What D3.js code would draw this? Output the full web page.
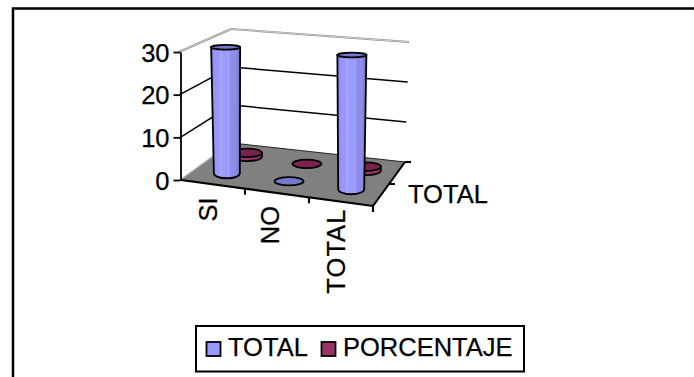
<!DOCTYPE html>
<html>
<head>
<meta charset="utf-8">
<script src="https://cdn.jsdelivr.net/npm/d3@7/dist/d3.min.js"></script>
<style>
html,body{margin:0;padding:0;background:#fff;overflow:hidden}
text{font-family:"Liberation Sans",Arial,sans-serif;fill:#000;stroke:#000;stroke-width:0.25px}
</style>
</head>
<body>
<svg id="chart" width="694" height="377"></svg>
<script>
// Chart data
const categories = ["SI", "NO", "TOTAL"];
const seriesNames = ["TOTAL", "PORCENTAJE"];
const totalValues = [30, 0, 30];
const percentValues = [1, 0, 1];
const valueTicks = [0, 10, 20, 30];

// Series styling
const sideColors = {TOTAL: "url(#cyl)", PORCENTAJE: "#993366"};
const capColors = {TOTAL: "#7676cc", PORCENTAJE: "#7a2350"};
const swatchColors = {TOTAL: "#9999ff", PORCENTAJE: "#993366"};

const svg = d3.select("#chart");
const FS = 25.5;

// Oblique box the chart is projected into: x/y of the floor and ceiling corners
const box = {
  floor: {fl: [181, 180], fr: [373, 206], bl: [232, 143], br: [405, 162]},
  ceil:  {fl: [179, 52],  fr: [373, 63],  bl: [231, 29],  br: [409, 42]}
};
const uScale = d3.scaleBand().domain(categories).range([0, 1]);
const vScale = d3.scalePoint().domain(seriesNames).range([0.29, 0.72]);
const zScale = d3.scaleLinear().domain([0, 30]).range([0, 1]);

const lerp = (a, b, t) => a + (b - a) * t;
function corner(level, u, v) {
  const c = box[level];
  return [0, 1].map(i => lerp(lerp(c.fl[i], c.fr[i], u), lerp(c.bl[i], c.br[i], u), v));
}
function project(u, v, value) {
  const a = corner("floor", u, v), b = corner("ceil", u, v), t = zScale(value);
  return [lerp(a[0], b[0], t), lerp(a[1], b[1], t)];
}
const poly = pts => "M" + pts.map(p => p.join(",")).join("L");

// Cylinder shading with the faceted vertical bands
const defs = svg.append("defs");
const grad = defs.append("linearGradient").attr("id", "cyl");
[[0, "#8686ea"], [0.12, "#9494fa"], [0.3, "#9c9cff"], [0.34, "#b0b0ff"], [0.38, "#9c9cff"],
 [0.55, "#9a9afc"], [0.6, "#a6a6ff"], [0.64, "#9292f2"], [0.78, "#8a8ae6"], [0.82, "#9090ea"], [1, "#7272c4"]]
  .forEach(s => grad.append("stop").attr("offset", s[0]).attr("stop-color", s[1]));

// Chart frame
svg.append("rect").attr("x", 13).attr("y", 8.5).attr("width", 720).attr("height", 400)
  .attr("fill", "#fff").attr("stroke", "#000").attr("stroke-width", 2.5);

// Walls: top edges are the pale double rule, gridlines are solid
const wall = svg.append("g").attr("fill", "none");
const wallEdge = pts => {
  wall.append("path").attr("d", poly(pts)).attr("stroke", "#888").attr("stroke-width", 2);
  wall.append("path").attr("d", poly(pts)).attr("stroke", "#eee").attr("stroke-width", 0.7);
};
wallEdge([project(0, 0, 30), project(0, 1, 30)]);
wallEdge([project(0, 1, 30), project(1, 1, 30)]);
valueTicks.filter(d => d > 0 && d < 30).forEach(d => {
  wall.append("path").attr("d", poly([project(0, 0, d), project(0, 1, d), project(1, 1, d)]))
    .attr("stroke", "#000").attr("stroke-width", 1.5);
});

// Floor
svg.append("path").attr("d", poly([project(0, 0, 0), project(1, 0, 0), project(1, 1, 0), project(0, 1, 0)]) + "Z")
  .attr("fill", "#808080");
wallEdge([project(0, 0, 0), project(0, 1, 0)]);
svg.append("path").attr("d", poly([project(0, 1, 0), project(1, 1, 0)]))
  .attr("stroke", "#222").attr("stroke-width", 1).attr("fill", "none");

// Cylinders, back row first
function drawCylinder(g, name, cat, value) {
  const u = uScale(cat) + uScale.bandwidth() / 2, v = vScale(name);
  const b = project(u, v, 0), t = project(u, v, value);
  const tall = value > 5;
  const rBase = tall ? 13 : 14.5, rTop = 14.5;
  const ryBase = tall ? 5 : 4.2, ryTop = tall ? 2.4 : 4.2;
  if (value > 0) {
    g.append("path")
      .attr("d", `M${t[0] - rTop},${t[1]}L${b[0] - rBase},${b[1]}` +
        `A${rBase},${ryBase} 0 0 0 ${b[0] + rBase},${b[1]}L${t[0] + rTop},${t[1]}Z`)
      .attr("fill", sideColors[name]).attr("stroke", "#000").attr("stroke-width", 1.8);
  }
  g.append("ellipse").attr("cx", t[0]).attr("cy", t[1]).attr("rx", rTop).attr("ry", ryTop)
    .attr("fill", capColors[name]).attr("stroke", "#000").attr("stroke-width", 1.8);
}
const marks = svg.append("g");
categories.forEach((c, i) => drawCylinder(marks, "PORCENTAJE", c, percentValues[i]));
categories.forEach((c, i) => drawCylinder(marks, "TOTAL", c, totalValues[i]));

// Axis lines and ticks
const axes = svg.append("g").attr("stroke", "#000").attr("fill", "none").attr("stroke-width", 2.1);
axes.append("path").attr("d", poly([project(0, 0, 0), project(1, 0, 0)]));
axes.append("path").attr("d", poly([project(1, 0, 0), project(1, 1, 0)]));
categories.forEach(c => {
  const p = project(uScale(c) + uScale.bandwidth(), 0, 0);
  axes.append("path").attr("d", poly([p, [p[0], p[1] + 6]]));
});
[0.5, 1].forEach(v => {
  const p = project(1, v, 0);
  axes.append("path").attr("d", poly([p, [p[0] + 6, p[1]]]));
});

// Value axis
const yAxisScale = d3.scaleLinear().domain([0, 30]).range([project(0, 0, 0)[1], project(0, 0, 30)[1]]);
const yAxis = svg.append("g").attr("transform", "translate(180.5,0)")
  .call(d3.axisLeft(yAxisScale).tickValues(valueTicks).tickSize(7).tickPadding(4).tickSizeOuter(0));
yAxis.selectAll("path,line").attr("stroke", "#000").attr("stroke-width", 1.8);
yAxis.selectAll("text").attr("font-size", FS).attr("font-family", '"Liberation Sans",Arial,sans-serif')
  .attr("dy", "0.36em");

// Category labels, rotated; long names run a little wider
const labelNudge = {SI: [0, 1], NO: [-2, 1], TOTAL: [0, -4]};
categories.forEach(c => {
  const u = uScale(c) + uScale.bandwidth() / 2, p = project(u, 0, 0), n = labelNudge[c];
  const t = svg.append("text").attr("transform", `translate(${p[0] + 4 + n[0]},${p[1] + 12 + n[1]}) rotate(-90)`)
    .attr("text-anchor", "end").attr("font-size", FS).text(c);
  if (c === "TOTAL") t.attr("textLength", 84);
});

// Series axis label
const depthLabel = project(1, 0.25, 0);
svg.append("text").attr("x", depthLabel[0] + 27).attr("y", depthLabel[1] + 8)
  .attr("font-size", FS).text(seriesNames[0]);

// Legend
const legend = svg.append("g");
legend.append("rect").attr("x", 196).attr("y", 326).attr("width", 328).attr("height", 45.5)
  .attr("fill", "#fff").attr("stroke", "#000").attr("stroke-width", 2);
const swatchX = d3.scaleOrdinal().domain(seriesNames).range([206.5, 321.5]);
seriesNames.forEach(n => {
  legend.append("rect").attr("x", swatchX(n)).attr("y", 342).attr("width", 14).attr("height", 14)
    .attr("fill", swatchColors[n]).attr("stroke", "#000").attr("stroke-width", 1.8);
  legend.append("text").attr("x", swatchX(n) + 21.5).attr("y", 356).attr("font-size", FS).text(n);
});
</script>
</body>
</html>
